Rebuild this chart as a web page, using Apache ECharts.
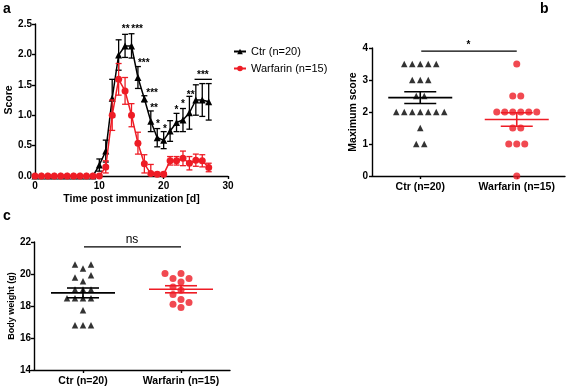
<!DOCTYPE html>
<html>
<head>
<meta charset="utf-8">
<script src="https://cdn.jsdelivr.net/npm/echarts@6/dist/echarts.min.js"></script>
<style>
  html, body { margin: 0; padding: 0; background: #fff; }
  #chart { width: 567px; height: 388px; }
</style>
</head>
<body>
<div id="chart"></div>
<script>
// panel a: clinical score over time (mean +- SEM)
const days = [0, 1, 2, 3, 4, 5, 6, 7, 8, 9, 10, 11, 12, 13, 14, 15, 16, 17, 18, 19, 20, 21, 22, 23, 24, 25, 26, 27];
const ctrScore = [0, 0, 0, 0, 0, 0, 0, 0, 0, 0, 0.18, 0.41, 1.28, 1.99, 2.14, 2.14, 1.62, 1.27, 0.9, 0.63, 0.59, 0.74, 0.88, 0.92, 1.04, 1.25, 1.25, 1.22];
const ctrSem = [0, 0, 0, 0, 0, 0, 0, 0, 0, 0, 0.1, 0.18, 0.31, 0.25, 0.19, 0.2, 0.18, 0.05, 0.17, 0.15, 0.14, 0.17, 0.15, 0.19, 0.27, 0.25, 0.27, 0.3];
const warScore = [0, 0, 0, 0, 0, 0, 0, 0, 0, 0, 0, 0.15, 1.0, 1.59, 1.4, 1.0, 0.54, 0.2, 0.04, 0.03, 0.03, 0.25, 0.25, 0.29, 0.21, 0.26, 0.25, 0.14];
const warSem = [0, 0, 0, 0, 0, 0, 0, 0, 0, 0, 0, 0.1, 0.25, 0.26, 0.22, 0.19, 0.18, 0.15, 0.15, 0.03, 0.03, 0.07, 0.07, 0.12, 0.11, 0.1, 0.1, 0.07];
// significance marks: [day, score level, text]
const starMarks = [[14.1, 2.45, '**'], [15.87, 2.45, '***'], [16.9, 1.89, '***'], [18.2, 1.41, '***'], [18.5, 1.15, '**'],
  [19.1, 0.89, '*'], [20.2, 0.81, '*'], [22.0, 1.12, '*'], [23.0, 1.22, '*'], [24.2, 1.37, '**'], [26.1, 1.69, '***']];
const starBar = [24.8, 27.5, 1.59];

// panel b / c groups
const groups = ['Ctr (n=20)', 'Warfarin (n=15)'];
const ctrMax = [3.5, 3.5, 3.5, 3.5, 3.5, 3, 3, 3, 2.5, 2.5, 2, 2, 2, 2, 2, 2, 2, 1.5, 1, 1];
const warMax = [3.5, 2.5, 2.5, 2, 2, 2, 2, 2, 2, 1.5, 1.5, 1, 1, 1, 0];
const ctrWeight = [20.59, 20.59, 20.34, 19.92, 19.78, 19.55, 19.03, 19.03, 19.03, 18.49, 18.49, 18.49, 18.49, 17.74, 16.79, 16.79, 16.79];
const warWeight = [20.03, 20.03, 19.72, 19.72, 19.5, 19.19, 18.99, 18.72, 18.41, 18.22, 18.11, 17.9];
const sigMax = [3.9, '*'];
const sigWeight = [21.69, 'ns'];

const FONT = 'Liberation Sans, Arial, sans-serif';
const RED = '#ee1c25';
const BLACK = '#000';

// spread identical values into centred rows
function rowOffsets(vals, gap) {
  const seen = {};
  vals.forEach(v => { seen[v] = (seen[v] || 0) + 1; });
  const used = {};
  return vals.map(v => {
    const k = used[v] || 0; used[v] = k + 1;
    return (k - (seen[v] - 1) / 2) * gap;
  });
}
// simple beeswarm in pixel space
function swarmOffsets(vals, pxPerUnit, gap) {
  const order = vals.map((v, i) => i).sort((a, b) => vals[a] - vals[b]);
  const placed = [];
  const off = new Array(vals.length).fill(0);
  order.forEach(i => {
    const y = vals[i] * pxPerUnit;
    for (let k = 0; k < 60; k++) {
      const c = k === 0 ? 0 : (k % 2 ? -1 : 1) * Math.ceil(k / 2) * gap / 2;
      if (placed.every(p => Math.hypot(p.x - c, p.y - y) >= gap - 0.5)) {
        off[i] = c; placed.push({ x: c, y: y }); break;
      }
    }
  });
  return off;
}
function dots(vals, cat, offs) {
  return vals.map((v, i) => ({ value: [cat, v], symbolOffset: [offs[i], 0] }));
}
function meanSem(vals) {
  const n = vals.length;
  const m = vals.reduce((a, b) => a + b, 0) / n;
  const sd = Math.sqrt(vals.reduce((a, b) => a + (b - m) * (b - m), 0) / (n - 1));
  return [m, sd / Math.sqrt(n)];
}

function errRender(color) {
  return function (params, api) {
    const x = api.value(0), m = api.value(1), s = api.value(2);
    if (!s) return null;
    const lo = Math.max(m - s, 0);
    const top = api.coord([x, m + s]), bot = api.coord([x, lo]);
    const st = { stroke: color, lineWidth: 1.3 };
    const ch = [
      { type: 'line', shape: { x1: top[0], y1: top[1], x2: bot[0], y2: bot[1] }, style: st },
      { type: 'line', shape: { x1: top[0] - 3, y1: top[1], x2: top[0] + 3, y2: top[1] }, style: st }
    ];
    if (m - s > 0) ch.push({ type: 'line', shape: { x1: bot[0] - 3, y1: bot[1], x2: bot[0] + 3, y2: bot[1] }, style: st });
    return { type: 'group', children: ch };
  };
}
function meanRender(colors) {
  return function (params, api) {
    const c = api.value(0), m = api.value(1), s = api.value(2);
    const p = api.coord([c, m]), hi = api.coord([c, m + s]), lo = api.coord([c, m - s]);
    const st = { stroke: colors[params.dataIndex], lineWidth: 1.6 };
    return { type: 'group', children: [
      { type: 'line', shape: { x1: p[0] - 32, y1: p[1], x2: p[0] + 32, y2: p[1] }, style: st },
      { type: 'line', shape: { x1: p[0], y1: hi[1], x2: p[0], y2: lo[1] }, style: st },
      { type: 'line', shape: { x1: p[0] - 16, y1: hi[1], x2: p[0] + 16, y2: hi[1] }, style: st },
      { type: 'line', shape: { x1: p[0] - 16, y1: lo[1], x2: p[0] + 16, y2: lo[1] }, style: st }
    ] };
  };
}
function sigRender(label, fontSize, dy) {
  return function (params, api) {
    const a = api.coord([0, api.value(0)]), b = api.coord([1, api.value(0)]);
    return { type: 'group', children: [
      { type: 'line', shape: { x1: a[0] + 1, y1: a[1], x2: b[0], y2: b[1] }, style: { stroke: BLACK, lineWidth: 1.3 } },
      { type: 'text', x: (a[0] + b[0]) / 2, y: a[1] - dy, style: { text: label, fill: BLACK, font: fontSize + 'px ' + FONT, align: 'center', verticalAlign: 'middle' } }
    ] };
  };
}

const axisLine = { show: true, lineStyle: { color: BLACK, width: 1.4 } };
const axisTick = { show: true, length: 3, lineStyle: { color: BLACK, width: 1.4 } };
const tickLabel = { color: BLACK, fontFamily: FONT, fontWeight: 'bold', fontSize: 10 };
const nameStyle = { color: BLACK, fontFamily: FONT, fontWeight: 'bold', fontSize: 10.5 };

const bStats = [meanSem(ctrMax), meanSem(warMax)];
const cStats = [meanSem(ctrWeight), meanSem(warWeight)];

let myChart = echarts.init(document.getElementById('chart'), null, { renderer: 'canvas' });
myChart.setOption({
  backgroundColor: '#fff',
  animation: false,
  textStyle: { fontFamily: FONT },
  grid: [
    { left: 35, top: 24, width: 193, height: 152, outerBoundsMode: 'none' },
    { left: 372, top: 48, width: 193, height: 128, outerBoundsMode: 'none' },
    { left: 34, top: 242, width: 196, height: 128, outerBoundsMode: 'none' }
  ],
  legend: {
    orient: 'vertical', left: 233, top: 46, padding: 0, itemGap: 6,
    itemWidth: 12, itemHeight: 7,
    data: ['Ctr (n=20)', 'Warfarin (n=15)'],
    textStyle: { color: BLACK, fontFamily: FONT, fontSize: 11 }
  },
  graphic: [
    { type: 'text', left: 3, top: 2, style: { text: 'a', font: 'bold 14px ' + FONT, fill: BLACK } },
    { type: 'text', left: 540, top: 2, style: { text: 'b', font: 'bold 14px ' + FONT, fill: BLACK } },
    { type: 'text', left: 3, top: 209, style: { text: 'c', font: 'bold 14px ' + FONT, fill: BLACK } }
  ],
  xAxis: [
    { gridIndex: 0, type: 'value', min: 0, max: 30, interval: 10, axisLine, axisTick, splitLine: { show: false },
      axisLabel: Object.assign({ margin: 5 }, tickLabel),
      name: 'Time post immunization [d]', nameLocation: 'middle', nameGap: 18, nameTextStyle: nameStyle },
    { gridIndex: 1, type: 'category', data: groups, axisLine, axisTick: Object.assign({ alignWithLabel: true }, axisTick),
      axisLabel: Object.assign({ margin: 6, interval: 0 }, tickLabel, { fontSize: 10.5 }) },
    { gridIndex: 2, type: 'category', data: groups, axisLine, axisTick: Object.assign({ alignWithLabel: true }, axisTick),
      axisLabel: Object.assign({ margin: 6, interval: 0 }, tickLabel, { fontSize: 10.5 }) }
  ],
  yAxis: [
    { gridIndex: 0, type: 'value', min: 0, max: 2.5, interval: 0.5, axisLine, axisTick, splitLine: { show: false },
      axisLabel: Object.assign({ margin: 3, formatter: v => v.toFixed(1) }, tickLabel),
      name: 'Score', nameLocation: 'middle', nameGap: 20, nameTextStyle: nameStyle },
    { gridIndex: 1, type: 'value', min: 0, max: 4, interval: 1, axisLine, axisTick, splitLine: { show: false },
      axisLabel: Object.assign({ margin: 4 }, tickLabel),
      name: 'Maximum score', nameLocation: 'middle', nameGap: 10, nameTextStyle: nameStyle },
    { gridIndex: 2, type: 'value', min: 14, max: 22, interval: 2, axisLine, axisTick, splitLine: { show: false },
      axisLabel: Object.assign({ margin: 3 }, tickLabel),
      name: 'Body weight (g)', nameLocation: 'middle', nameGap: 17, nameTextStyle: Object.assign({}, nameStyle, { fontSize: 9 }) }
  ],
  series: [
    { name: 'ctr-err', type: 'custom', xAxisIndex: 0, yAxisIndex: 0, z: 2,
      renderItem: errRender(BLACK), data: days.map((d, i) => [d, ctrScore[i], ctrSem[i]]) },
    { name: 'Ctr (n=20)', type: 'line', xAxisIndex: 0, yAxisIndex: 0, z: 3,
      symbol: 'triangle', symbolSize: 7, color: BLACK, itemStyle: { color: BLACK },
      lineStyle: { color: BLACK, width: 1.5 }, data: days.map((d, i) => [d, ctrScore[i]]) },
    { name: 'war-err', type: 'custom', xAxisIndex: 0, yAxisIndex: 0, z: 4,
      renderItem: errRender(RED), data: days.map((d, i) => [d, warScore[i], warSem[i]]) },
    { name: 'Warfarin (n=15)', type: 'line', xAxisIndex: 0, yAxisIndex: 0, z: 5,
      symbol: 'circle', symbolSize: 7, color: RED, itemStyle: { color: RED },
      lineStyle: { color: RED, width: 1.5 }, data: days.map((d, i) => [d, warScore[i]]) },
    { name: 'stars', type: 'custom', xAxisIndex: 0, yAxisIndex: 0, z: 6,
      renderItem: function (params, api) {
        const p = api.coord([api.value(0), api.value(1)]);
        return { type: 'text', x: p[0], y: p[1] + 2.5,
          style: { text: starMarks[params.dataIndex][2], fill: BLACK, font: 'bold 10px ' + FONT, align: 'center', verticalAlign: 'middle' } };
      },
      data: starMarks.map(s => [s[0], s[1]]) },
    { name: 'star-bar', type: 'custom', xAxisIndex: 0, yAxisIndex: 0, z: 6,
      renderItem: function (params, api) {
        const a = api.coord([api.value(0), api.value(2)]), b = api.coord([api.value(1), api.value(2)]);
        return { type: 'line', shape: { x1: a[0], y1: a[1], x2: b[0], y2: b[1] }, style: { stroke: BLACK, lineWidth: 1.3 } };
      },
      data: [starBar] },

    // panel b
    { name: 'b-ctr', type: 'scatter', xAxisIndex: 1, yAxisIndex: 1, symbol: 'triangle', symbolSize: 6.5,
      itemStyle: { color: BLACK }, data: dots(ctrMax, 0, rowOffsets(ctrMax, 8)) },
    { name: 'b-war', type: 'scatter', xAxisIndex: 1, yAxisIndex: 1, symbol: 'circle', symbolSize: 7,
      itemStyle: { color: RED }, data: dots(warMax, 1, rowOffsets(warMax, 8)) },
    { name: 'b-mean', type: 'custom', xAxisIndex: 1, yAxisIndex: 1, z: 4,
      renderItem: meanRender([BLACK, RED]), data: bStats.map((s, i) => [i, s[0], s[1]]) },
    { name: 'b-sig', type: 'custom', xAxisIndex: 1, yAxisIndex: 1,
      renderItem: sigRender(sigMax[1], 'bold 10', 6), data: [[sigMax[0]]] },

    // panel c
    { name: 'c-ctr', type: 'scatter', xAxisIndex: 2, yAxisIndex: 2, symbol: 'triangle', symbolSize: 6.5,
      itemStyle: { color: BLACK }, data: dots(ctrWeight, 0, swarmOffsets(ctrWeight, 16, 8)) },
    { name: 'c-war', type: 'scatter', xAxisIndex: 2, yAxisIndex: 2, symbol: 'circle', symbolSize: 7,
      itemStyle: { color: RED }, data: dots(warWeight, 1, swarmOffsets(warWeight, 16, 8)) },
    { name: 'c-mean', type: 'custom', xAxisIndex: 2, yAxisIndex: 2, z: 4,
      renderItem: meanRender([BLACK, RED]), data: cStats.map((s, i) => [i, s[0], s[1]]) },
    { name: 'c-sig', type: 'custom', xAxisIndex: 2, yAxisIndex: 2,
      renderItem: sigRender(sigWeight[1], 12, 7), data: [[sigWeight[0]]] }
  ]
});
</script>
</body>
</html>
